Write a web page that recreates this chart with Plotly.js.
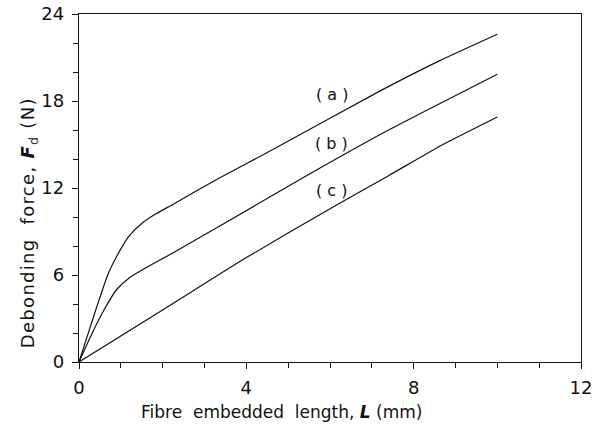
<!DOCTYPE html>
<html><head><meta charset="utf-8">
<script src="https://cdn.plot.ly/plotly-3.0.1.min.js"></script>
<style>html,body{margin:0;padding:0;background:#fff}#chart{width:595px;height:432px}
.annotation[data-index="4"] text{letter-spacing:1.3px}</style>
</head><body><div id="chart"></div>
<script>
const xA = [0, 0.3, 0.7, 1.0, 1.2, 1.5, 1.8, 2.2, 3.3, 4.6, 7.2, 8.6, 10];
const yA = [0, 2.7, 6.1, 7.8, 8.7, 9.55, 10.15, 10.8, 12.6, 14.6, 18.7, 20.75, 22.6];
const xB = [0, 0.3, 0.6, 0.9, 1.2, 1.6, 2.2, 3.5, 5.5, 7.4, 10];
const yB = [0, 1.9, 3.6, 5.0, 5.8, 6.5, 7.45, 9.6, 12.95, 16.0, 19.85];
const xC = [0, 2.2, 4.0, 6.2, 7.4, 8.7, 10];
const yC = [0, 3.95, 7.2, 10.9, 12.85, 15.0, 16.9];
const labels = ["(a)", "(b)", "(c)"];
const labelX = [6.04, 6.04, 6.04];
const labelY = [18.45, 15.07, 11.86];
const xTitle = "Fibre  embedded  length, <b><i>L</i></b> (mm)";
const yTitle = "Debonding  force, <b><i>F</i></b><sub>d</sub> (N)";

const font = "DejaVu Sans, sans-serif";
const lineStyle = {color: "#111", width: 1.2, shape: "spline", smoothing: 0.5};
const traces = [
  {x: xA, y: yA, mode: "lines", line: lineStyle, hoverinfo: "skip"},
  {x: xB, y: yB, mode: "lines", line: lineStyle, hoverinfo: "skip"},
  {x: xC, y: yC, mode: "lines", line: lineStyle, hoverinfo: "skip"}
];
const annotations = labels.map((t, i) => ({
  x: labelX[i], y: labelY[i], xref: "x", yref: "y", text: t.split("").join(" "),
  showarrow: false, font: {family: font, size: 16, color: "#111"}
}));
annotations.push({
  x: 0.404, y: -0.144, xref: "paper", yref: "paper", xanchor: "center", yanchor: "middle",
  text: xTitle, showarrow: false, font: {family: font, size: 17, color: "#111"}
});
annotations.push({
  x: -0.1, y: 0.40, xref: "paper", yref: "paper", xanchor: "center", yanchor: "middle",
  textangle: -90, text: yTitle, showarrow: false, font: {family: font, size: 18, color: "#111"}
});
const axisCommon = {
  showgrid: false, zeroline: false, showline: true, linecolor: "#111", linewidth: 1.2,
  mirror: true, ticks: "outside", ticklen: 6, tickwidth: 1, tickcolor: "#111",
  tickfont: {family: font, size: 18, color: "#111"}
};
const layout = {
  width: 595, height: 432,
  margin: {l: 79, r: 14, t: 14, b: 70},
  paper_bgcolor: "#fff", plot_bgcolor: "#fff",
  showlegend: false,
  xaxis: Object.assign({}, axisCommon, {
    range: [0, 12], tick0: 0, dtick: 4, ticklabelstandoff: 3,
    minor: {dtick: 1, ticks: "outside", ticklen: 5, tickcolor: "#111", showgrid: false}
  }),
  yaxis: Object.assign({}, axisCommon, {
    range: [0, 24], tick0: 0, dtick: 6, ticklabelstandoff: 4,
    minor: {dtick: 2, ticks: "outside", ticklen: 5, tickcolor: "#111", showgrid: false}
  }),
  annotations: annotations
};
Plotly.newPlot("chart", traces, layout, {displayModeBar: false, staticPlot: true});
</script></body></html>
